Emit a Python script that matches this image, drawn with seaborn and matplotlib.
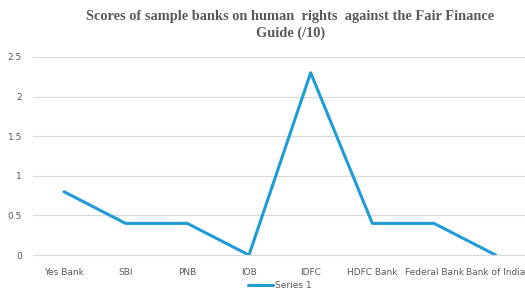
import pandas as pd
import matplotlib
matplotlib.use('Agg')
import matplotlib.pyplot as plt
import seaborn as sns

banks = ['Yes Bank', 'SBI', 'PNB', 'IOB', 'IDFC', 'HDFC Bank', 'Federal Bank', 'Bank of India']
scores = [0.8, 0.4, 0.4, 0.0, 2.3, 0.4, 0.4, 0.0]

df = pd.DataFrame({'bank': banks, 'score': scores})

sns.set_style('white')
plt.rcParams['font.family'] = ['DejaVu Sans']

fig = plt.figure(figsize=(5.25, 2.98), dpi=100)
ax = fig.add_axes([0.063, 0.144, 0.94, 0.665])

sns.lineplot(data=df, x='bank', y='score', sort=False, color='#1F9BD7',
             linewidth=2.2, label='Series 1', ax=ax)

ax.set_xlim(-0.5, 7.5)
ax.set_ylim(0, 2.5)
ax.set_yticks([0, 0.5, 1, 1.5, 2, 2.5])
ax.set_yticklabels(['0', '0.5', '1', '1.5', '2', '2.5'])
ax.grid(axis='y', color='#D9D9D9', linewidth=0.8)
ax.set_axisbelow(True)
for s in ['top', 'right', 'left']:
    ax.spines[s].set_visible(False)
ax.spines['bottom'].set_color('#D9D9D9')
ax.tick_params(axis='both', length=0, labelsize=6.5, colors='#595959')
ax.tick_params(axis='x', pad=9)
ax.tick_params(axis='y', pad=8)
ax.set_xlabel('')
ax.set_ylabel('')

fig.suptitle('Scores of sample banks on human  rights  against the Fair Finance\nGuide (/10)',
             x=0.553, y=0.965, fontsize=10.4, fontweight='bold', color='#595959',
             family='Liberation Serif', linespacing=1.3)

ax.legend(loc='center', bbox_to_anchor=(0.5, -0.155), frameon=False,
          fontsize=6.5, labelcolor='#595959', handlelength=2.8, handletextpad=0.2)

fig.savefig('out.png', dpi=100)
